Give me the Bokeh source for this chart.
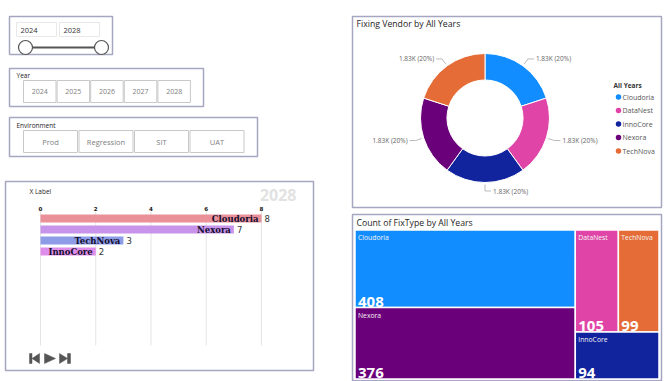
from bokeh.plotting import figure
from bokeh.models import Range1d
from bokeh.embed import file_html
from bokeh.resources import INLINE
from bokeh.core.properties import value
import math

# ---------------- data ----------------
year_range = ["2024", "2028"]
years = ["2024", "2025", "2026", "2027", "2028"]
environments = ["Prod", "Regression", "SIT", "UAT"]

race_year = "2028"
race_vendors = ["Cloudoria", "Nexora", "TechNova", "InnoCore"]
race_counts = [8, 7, 3, 2]
race_colors = ["#EA9099", "#C893EA", "#8E9CE8", "#DF8DEA"]
race_ticks = [0, 2, 4, 6, 8]

vendor_names = ["Cloudoria", "DataNest", "InnoCore", "Nexora", "TechNova"]
vendor_values = [1830, 1830, 1830, 1830, 1830]
vendor_colors = ["#118DFF", "#E044A7", "#12239E", "#6B007B", "#E66C37"]

fix_names = ["Cloudoria", "Nexora", "DataNest", "TechNova", "InnoCore"]
fix_counts = [408, 376, 105, 99, 94]

# ---------------- canvas ----------------
W, H = 668, 381
X0, Y0 = 0, 0
p = figure(width=W, height=H, x_range=Range1d(X0, X0 + W), y_range=Range1d(Y0 + H, Y0),
           output_backend="svg", toolbar_location=None, min_border=0,
           x_axis_location=None, y_axis_location=None, outline_line_color=None)
p.grid.visible = False
p.background_fill_color = "white"
p.border_fill_color = "white"

PANEL = "#A6A6C2"
BTN = "#C8C8C8"
UI = "Open Sans"


def txt(x, y, s, size, color, align="left", baseline="middle", bold=False, font=UI, **kw):
    p.text(x=x if isinstance(x, list) else [x], y=y if isinstance(y, list) else [y],
           text=s if isinstance(s, list) else [s], text_font=value(font), text_font_size=size,
           text_color=color, text_align=align, text_baseline=baseline,
           text_font_style="bold" if bold else "normal", **kw)


def box(l, r, t, b, color=PANEL, width=1.5, fill=None):
    p.quad(left=[l], right=[r], top=[t], bottom=[b], fill_color=fill, line_color=color, line_width=width)


# ---------------- slider slicer ----------------
box(9, 112, 16, 54)
for i, yr in enumerate(year_range):
    l = 16 + i * 43
    box(l, l + 40, 22, 36, color="#E8E8E8", width=1)
    txt(l + 4, 29.5, yr, "7.5px", "#333333")
p.line([25, 101], [47, 47], line_color="#555555", line_width=2)
p.scatter([25, 101], [47, 47], size=14, fill_color="white", line_color="#555555", line_width=1.2)

# ---------------- year slicer ----------------
box(9, 203, 68, 106)
txt(16, 74.5, "Year", "6.5px", "#222222")
for i, yr in enumerate(years):
    l = 23 + i * 33.6
    box(l, l + 32.5, 80, 102, color=BTN, width=1)
    txt(l + 16.25, 91, yr, "7px", "#808080", align="center")

# ---------------- environment slicer ----------------
box(9, 257, 117, 156)
txt(16, 124.5, "Environment", "6.5px", "#222222")
for i, env in enumerate(environments):
    l = 23 + i * 55.5
    box(l, l + 54, 130, 152, color=BTN, width=1)
    txt(l + 27, 141, env, "7.5px", "#808080", align="center")

# ---------------- bar chart race ----------------
box(5, 313, 181, 370)
txt(29, 190.5, "X Label", "6.5px", "#222222")
txt(296, 194, race_year, "16px", "#E2E2E2", align="right", bold=True)

AX0, AX1, AXMAX = 40.0, 261.0, race_ticks[-1]
k = (AX1 - AX0) / AXMAX
p.extra_x_ranges = {"val": Range1d(0 - (AX0 - X0) / k, AXMAX + (X0 + W - AX1) / k)}
R0, RSTEP = 218.0, 11.0
p.extra_y_ranges = {"rank": Range1d((Y0 + H - R0) / RSTEP, (Y0 - R0) / RSTEP)}

p.segment(x0=race_ticks, x1=race_ticks, y0=[211] * len(race_ticks), y1=[345] * len(race_ticks),
          x_range_name="val", line_color="#E4E4E4", line_width=1)
p.text(x=race_ticks, y=[208] * len(race_ticks), text=[str(t) for t in race_ticks], x_range_name="val",
       text_font=value("DejaVu Sans"), text_font_size="5.5px", text_font_style="bold",
       text_color="#111111", text_align="center", text_baseline="middle")
ranks = list(range(len(race_vendors)))
p.hbar(y=ranks, left=0, right=race_counts, height=8 / RSTEP, fill_color=race_colors, line_color=None,
       x_range_name="val", y_range_name="rank")
p.text(x=race_counts, y=ranks, text=race_vendors, x_range_name="val", y_range_name="rank", x_offset=-3,
       text_font=value("DejaVu Serif"), text_font_size="8.5px", text_font_style="bold",
       text_color="#140F2E", text_align="right", text_baseline="middle")
p.text(x=race_counts, y=ranks, text=[str(v) for v in race_counts], x_range_name="val", y_range_name="rank",
       x_offset=3, text_font=value("DejaVu Sans"), text_font_size="8.5px",
       text_color="#333333", text_align="left", text_baseline="middle")

# play controls
ICON = "#555555"
p.patches(xs=[[29, 31.5, 31.5, 29], [31.5, 39, 39], [44, 55, 44], [59, 67, 59], [67, 70, 70, 67]],
          ys=[[353, 353, 363, 363], [358, 353, 363], [353, 358, 363], [353, 358, 363], [353, 353, 363, 363]],
          fill_color=ICON, line_color=ICON, line_width=0.5)

# ---------------- donut ----------------
box(352, 661, 16, 207)
txt(356, 23, "Fixing Vendor by All Years", "8.7px", "#252423")
CX, CY, RO, RI = 484.5, 117.5, 64.5, 38.0
total = sum(vendor_values)
starts, ends = [], []
acc = 0.0
for v in vendor_values:
    a0 = math.pi / 2 - 2 * math.pi * acc / total
    acc += v
    a1 = math.pi / 2 - 2 * math.pi * acc / total
    starts.append(a0)
    ends.append(a1)
p.annular_wedge(x=[CX] * len(vendor_values), y=[CY] * len(vendor_values), inner_radius=RI, outer_radius=RO,
                start_angle=starts, end_angle=ends, direction="clock", fill_color=vendor_colors,
                line_color="white", line_width=1)
for a0, a1, v in zip(starts, ends, vendor_values):
    m = (a0 + a1) / 2
    c, s = math.cos(m), math.sin(m)
    px1, py1 = CX + (RO + 2) * c, CY - (RO + 2) * s
    px2, py2 = CX + (RO + 8.5) * c, CY - (RO + 8.5) * s
    side = 1 if c >= -1e-9 else -1
    px3 = px2 + 6 * side
    p.line([px1, px2, px3], [py1, py2, py2], line_color="#AAAAAA", line_width=0.8)
    label = f"{v / 1000:.2f}K ({v / total:.0%})"
    txt(px3 + 2 * side, py2, label, "6.5px", "#666666", align="left" if side > 0 else "right")

# legend
txt(613, 84.5, "All Years", "6.5px", "#333333", bold=True)
ly = [96.5 + 13.5 * i for i in range(len(vendor_names))]
p.scatter([618] * len(vendor_names), ly, size=5.5, fill_color=vendor_colors, line_color=None)
txt([622] * len(vendor_names), ly, vendor_names, "7px", "#555555")

# ---------------- treemap ----------------
box(352, 661, 214, 380)
txt(356, 222, "Count of FixType by All Years", "8.7px", "#252423")
fix_val = dict(zip(fix_names, fix_counts))
color_of = dict(zip(vendor_names, vendor_colors))
tree = ("h", [("v", ["Cloudoria", "Nexora"]), ("v", [("h", ["DataNest", "TechNova"]), "InnoCore"])])


def weight(n):
    return fix_val[n] if isinstance(n, str) else sum(weight(c) for c in n[1])


def layout(n, x0, y0, x1, y1, out):
    if isinstance(n, str):
        out[n] = (x0, y0, x1, y1)
        return
    d, kids = n
    tot = weight(n)
    pos = x0 if d == "h" else y0
    for kid in kids:
        f = weight(kid) / tot
        if d == "h":
            nx = pos + f * (x1 - x0)
            layout(kid, pos, y0, nx, y1, out)
            pos = nx
        else:
            ny = pos + f * (y1 - y0)
            layout(kid, x0, pos, x1, ny, out)
            pos = ny


cells = {}
layout(tree, 354.5, 229.5, 658.5, 378.5, cells)
names = list(cells.keys())
p.quad(left=[cells[n][0] for n in names], right=[cells[n][2] for n in names],
       top=[cells[n][1] for n in names], bottom=[cells[n][3] for n in names],
       fill_color=[color_of[n] for n in names], line_color="white", line_width=1.5)
txt([cells[n][0] + 3 for n in names], [cells[n][1] + 7.5 for n in names], names, "6.8px", "#F4F4F4")
txt([cells[n][0] + 3 for n in names], [cells[n][3] - 1 for n in names], [str(fix_val[n]) for n in names],
    "15px", "white", baseline="bottom", bold=True)

open("out.html", "w").write(file_html(p, INLINE))
